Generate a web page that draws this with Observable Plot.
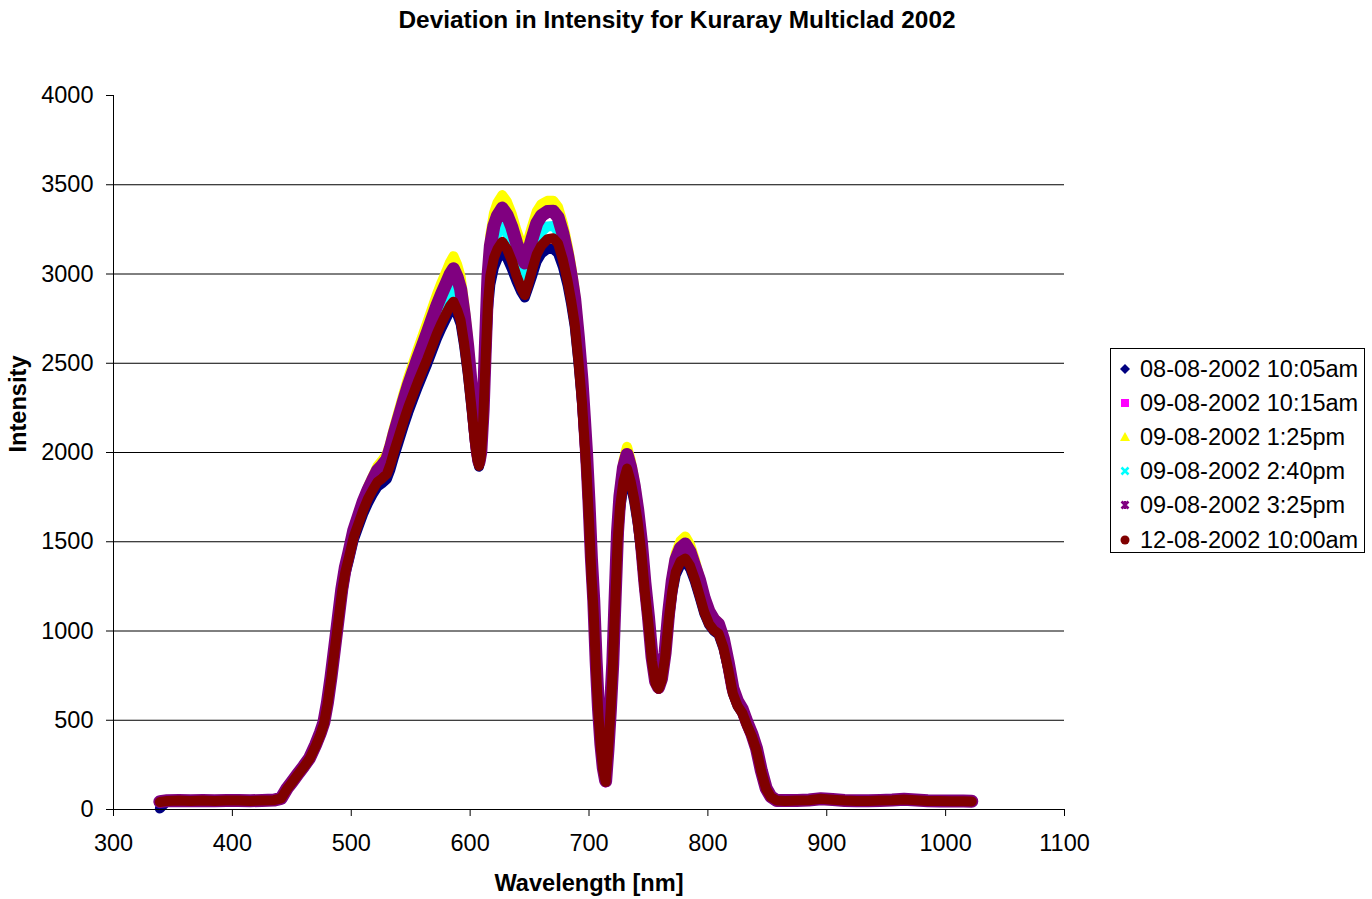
<!DOCTYPE html>
<html><head><meta charset="utf-8">
<script src="https://cdn.jsdelivr.net/npm/d3@7"></script>
<script src="https://cdn.jsdelivr.net/npm/@observablehq/plot@0.6"></script>
<style>
body{margin:0;background:#fff;font-family:"Liberation Sans",Arial,sans-serif;}
#wrap{position:relative;width:1372px;height:899px;overflow:hidden;}
#legend{position:absolute;left:1110px;top:348px;width:255px;height:205px;border:1px solid #000;box-sizing:border-box;background:#fff;}
.row{position:absolute;left:0;height:34px;display:flex;align-items:center;font-size:23.5px;color:#000;white-space:nowrap;}
.row svg{width:16px;height:16px;margin-left:6px;margin-right:7px;}
</style></head>
<body><div id="wrap"><div id="chart"></div><div id="legend"></div></div>
<script>
// Wavelength [nm]
const wavelength = [339,345,355,365,375,385,395,405,415,425,
435,441,446,450,455,460,465,470,474,477,
480,483,486,489,492,495,498,502,506,510,
514,518,522,526,530,533,536,540,544,548,
552,556,560,564,568,572,576,580,583,586,
589,592,595,598,601,604,606,607.5,609,611,
613,615,617,620,623,627,631,635,639,643,
646,649,652,656,660,665,670,674,678,682,
685,688,691,694,696,698,700,702,704,706,
708,710,712,714,716,718,720,722,724,726,
729,732,735,738,741,744,747,750,753,756,
758.5,761,764,767,770,773,777,781,785,789,
793,797,801,805,809,813,817,821,825,829,
833,837,841,845,849,853,858,865,875,885,
895,905,915,925,935,945,955,965,975,985,
995,1005,1015,1022];

// 08-08-2002 10:05am
const s0808_1005 = [5,46,48,47,48,47,48,48,47,48,
50,58,114,148,192,234,280,350,414,474,
583,722,880,1038,1196,1316,1395,1508,1582,1655,
1715,1765,1808,1828,1852,1905,1975,2060,2145,2225,
2297,2367,2432,2497,2567,2637,2697,2752,2792,2815,
2775,2720,2595,2440,2255,2058,1962,1920,1970,2170,
2500,2800,2940,3035,3085,3125,3090,3030,2960,2900,
2868,2925,2985,3070,3115,3140,3140,3115,3040,2935,
2830,2705,2510,2285,2090,1880,1625,1330,1105,780,
530,345,222,155,328,535,785,1140,1485,1670,
1815,1885,1820,1725,1600,1435,1220,1040,832,706,
676,718,846,1052,1210,1315,1372,1388,1350,1278,
1190,1098,1035,1000,980,905,788,650,580,540,
470,410,330,212,117,70,50,47,49,51,
58,54,49,47,47,49,51,55,51,47,
46,45,45,44];

// 09-08-2002 10:15am
const s0908_1015 = [40,50,52,50,52,50,52,52,50,52,
54,63,116,151,196,240,287,360,427,487,
598,741,903,1067,1230,1354,1438,1559,1641,1722,
1780,1837,1890,1919,1953,2017,2094,2186,2279,2366,
2443,2520,2592,2665,2740,2815,2881,2941,2988,3021,
2976,2908,2764,2586,2367,2131,2000,1939,1996,2237,
2620,2976,3148,3262,3319,3361,3323,3256,3166,3092,
3054,3117,3188,3275,3319,3342,3343,3310,3220,3096,
2982,2849,2642,2404,2197,1980,1713,1402,1164,823,
556,358,225,152,332,552,811,1184,1547,1747,
1907,1981,1910,1807,1670,1494,1264,1072,848,710,
676,725,868,1094,1271,1390,1457,1479,1435,1354,
1277,1174,1100,1056,1030,949,820,672,598,553,
479,415,332,209,111,68,52,50,52,54,
61,57,52,50,50,52,54,58,54,50,
49,48,48,47];

// 09-08-2002 1:25pm
const s0908_0125 = [40,45,47,46,47,46,47,48,46,47,
50,60,118,153,198,243,290,363,430,490,
602,745,908,1072,1236,1360,1445,1567,1650,1733,
1806,1866,1923,1955,1992,2060,2140,2235,2330,2420,
2500,2580,2655,2730,2807,2885,2953,3015,3065,3100,
3055,2985,2835,2650,2420,2170,2025,1955,2015,2270,
2670,3040,3220,3340,3400,3442,3405,3337,3245,3170,
3132,3195,3265,3350,3392,3410,3410,3375,3285,3160,
3045,2910,2700,2460,2250,2030,1760,1445,1201,855,
585,380,240,163,345,570,835,1215,1585,1790,
1955,2032,1960,1855,1715,1535,1300,1102,870,725,
688,740,890,1125,1310,1435,1505,1530,1485,1400,
1300,1195,1120,1074,1047,965,835,685,610,565,
490,425,342,218,120,70,47,45,47,50,
58,52,47,46,46,47,50,54,50,46,
45,44,44,43];

// 09-08-2002 2:40pm
const s0908_0240 = [41,47,49,47,49,47,49,49,47,49,
51,60,117,151,196,240,287,358,424,484,
595,736,897,1059,1220,1342,1424,1542,1620,1698,
1762,1815,1864,1888,1917,1976,2050,2138,2226,2309,
2383,2456,2524,2593,2665,2738,2800,2858,2901,2929,
2884,2821,2684,2516,2313,2096,1985,1935,1988,2210,
2570,2906,3066,3173,3226,3266,3227,3161,3074,3003,
2965,3028,3101,3189,3237,3266,3269,3238,3148,3026,
2914,2783,2579,2346,2143,1930,1666,1361,1131,798,
550,357,228,158,336,553,809,1177,1536,1732,
1888,1961,1890,1788,1654,1480,1254,1066,847,713,
681,728,867,1087,1258,1374,1438,1458,1415,1336,
1242,1143,1074,1033,1011,933,809,665,593,550,
478,416,335,213,117,70,50,49,50,51,
57,53,49,47,47,49,51,54,51,47,
46,45,45,44];

// 09-08-2002 3:25pm
const s0908_0325 = [44,49,51,49,51,49,51,51,49,51,
53,62,118,153,198,242,289,362,429,489,
600,743,905,1069,1232,1356,1440,1561,1643,1724,
1788,1845,1898,1927,1961,2025,2102,2194,2287,2374,
2451,2528,2600,2673,2748,2823,2889,2949,2996,3029,
2984,2916,2772,2594,2375,2139,2008,1947,2004,2245,
2628,2984,3156,3270,3327,3369,3331,3264,3174,3100,
3062,3125,3196,3283,3327,3350,3351,3318,3228,3104,
2990,2857,2650,2412,2205,1988,1721,1410,1172,831,
564,366,233,160,340,560,819,1192,1555,1755,
1915,1989,1918,1815,1678,1502,1272,1080,856,718,
684,733,876,1102,1279,1398,1465,1487,1443,1362,
1285,1182,1108,1064,1038,957,828,680,606,561,
487,423,340,217,119,72,50,50,51,53,
60,56,51,49,49,51,53,57,53,49,
48,47,47,46];

// 12-08-2002 10:00am
const s1208_1000 = [42,48,50,48,50,48,50,50,48,50,
52,62,116,150,195,238,285,355,420,480,
590,730,890,1050,1210,1330,1410,1525,1600,1675,
1740,1790,1835,1855,1880,1935,2005,2090,2175,2255,
2325,2395,2460,2525,2595,2665,2725,2780,2820,2845,
2800,2740,2610,2450,2260,2060,1965,1925,1975,2180,
2520,2840,2990,3090,3140,3180,3140,3075,2990,2920,
2882,2945,3020,3110,3160,3195,3200,3170,3080,2960,
2850,2720,2520,2290,2090,1880,1620,1320,1096,770,
525,340,220,155,330,540,790,1150,1500,1690,
1840,1910,1840,1740,1610,1440,1220,1040,830,705,
676,720,850,1060,1220,1330,1390,1406,1365,1290,
1200,1105,1040,1004,985,910,790,650,580,540,
470,410,330,210,115,70,50,48,50,52,
60,55,50,48,48,50,52,56,52,48,
47,46,46,45];

const seriesNames = ["08-08-2002 10:05am","09-08-2002 10:15am","09-08-2002 1:25pm","09-08-2002 2:40pm","09-08-2002 3:25pm","12-08-2002 10:00am"];
const seriesValues = [s0808_1005, s0908_1015, s0908_0125, s0908_0240, s0908_0325, s1208_1000];
const seriesColors = ["#000080","#FF00FF","#FFFF00","#00FFFF","#800080","#800000"];
const seriesWidths = [10,10,10,10,13,10];
const xTicks = [300,400,500,600,700,800,900,1000,1100];
const yTicks = [0,500,1000,1500,2000,2500,3000,3500,4000];
const gridValues = [500,1000,1500,2000,2500,3000,3500];

const font = '"Liberation Sans", Arial, sans-serif';
const lineMarks = seriesValues.map((vals, k) =>
  Plot.line(wavelength.map((w, i) => ({w, v: vals[i]})), {
    x: "w", y: "v", stroke: seriesColors[k], strokeWidth: seriesWidths[k],
    strokeLinejoin: "round", strokeLinecap: "round"
  })
);

const chart = Plot.plot({
  width: 1372, height: 899,
  marginLeft: 113, marginRight: 308, marginTop: 95, marginBottom: 90,
  x: {domain: [300, 1100]},
  y: {domain: [0, 4000]},
  style: {fontFamily: font, fontSize: "23.5px", color: "#000", background: "#fff", overflow: "visible"},
  marks: [
    Plot.ruleY(gridValues, {stroke: "#000", strokeWidth: 1}),
    ...lineMarks,
    Plot.ruleX([300], {stroke: "#000", strokeWidth: 1}),
    Plot.ruleY([0], {stroke: "#000", strokeWidth: 1}),
    Plot.axisX({ticks: xTicks, tickSize: 7, tickPadding: 18, label: null, tickFormat: d => String(d), fontSize: 23.5}),
    Plot.axisY({ticks: yTicks, tickSize: 7, tickPadding: 13, label: null, tickFormat: d => String(d), fontSize: 23.5}),
    Plot.text(["Deviation in Intensity for Kuraray Multiclad 2002"], {frameAnchor: "top", lineAnchor: "middle", dx: 88, dy: -75, fontSize: 24.4, fontWeight: "bold"}),
    Plot.text(["Wavelength [nm]"], {frameAnchor: "bottom", lineAnchor: "middle", dy: 74, fontSize: 23.6, fontWeight: "bold"}),
    Plot.text(["Intensity"], {frameAnchor: "left", lineAnchor: "middle", dx: -95, rotate: -90, fontSize: 23.6, fontWeight: "bold"})
  ]
});
document.getElementById("chart").appendChild(chart);

// Legend
const symbols = [
  '<polygon points="8,3 13,8 8,13 3,8" fill="#000080"/>',
  '<rect x="4" y="4" width="8" height="8" fill="#FF00FF"/>',
  '<polygon points="8,3 13,12 3,12" fill="#FFFF00"/>',
  '<path d="M4.5,4.5L11.5,11.5M11.5,4.5L4.5,11.5" stroke="#00FFFF" stroke-width="2.5"/>',
  '<path d="M4.5,4.5L11.5,11.5M11.5,4.5L4.5,11.5M8,4V12" stroke="#800080" stroke-width="2.5"/>',
  '<circle cx="8" cy="8" r="4.5" fill="#800000"/>'
];
const legend = document.getElementById("legend");
const rowCenters = [20, 54, 88, 122, 156, 191];
seriesNames.forEach((name, k) => {
  const row = document.createElement("div");
  row.className = "row";
  row.style.top = (rowCenters[k] - 17) + "px";
  row.innerHTML = '<svg viewBox="0 0 16 16">' + symbols[k] + '</svg><span>' + name + '</span>';
  legend.appendChild(row);
});
</script>
</body></html>
